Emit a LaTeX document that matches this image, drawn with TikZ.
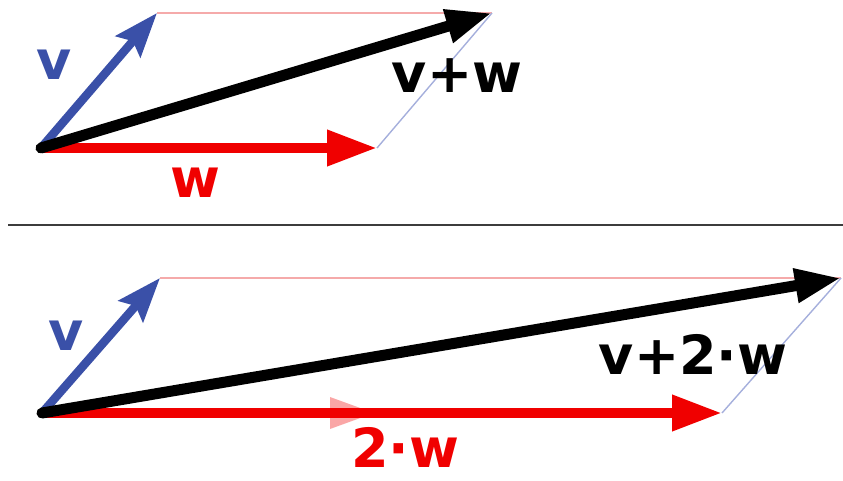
\documentclass[tikz,border=0pt]{standalone}
\usepackage{fontspec}
\setmainfont{DejaVu Sans}
\usetikzlibrary{arrows.meta,calc}
\definecolor{vblue}{RGB}{58,80,168}
\definecolor{wred}{RGB}{240,0,0}
\definecolor{pinkline}{RGB}{245,170,170}
\definecolor{blueline}{RGB}{165,175,220}
\definecolor{sepgray}{RGB}{60,60,60}
\tikzset{
  vvec/.style={draw=vblue, line width=8.5pt, -{Stealth[length=44pt,width=32pt,inset=7pt]}},
  wvec/.style={draw=wred, line width=10pt, -{Triangle[length=50pt,width=34pt]}},
  svec/.style={draw=black, line width=11pt, line cap=round, -{Triangle[length=46pt,width=32pt]}},
  pline/.style={draw=pinkline, line width=1.6pt},
  bline/.style={draw=blueline, line width=1.4pt},
  lbl/.style={font=\fontsize{54}{60}\bfseries\selectfont, inner sep=0pt, anchor=base},
}
\begin{document}
\begin{tikzpicture}[x=1pt,y=-1pt]
\useasboundingbox (0,0) rectangle (843,481);
% top
\coordinate (O1) at (41,148);
\coordinate (V1) at (157,13);
\coordinate (W1) at (377,148);
\coordinate (S1) at (492,13);
\draw[pline] (V1) -- (S1);
\draw[bline] (W1) -- (S1);
\draw[vvec] (O1) -- (V1);
\draw[wvec] (O1) -- (W1);
\draw[svec] (O1) -- (S1);
\node[lbl, text=vblue] (lv1) at (54,80) {v};
\node[lbl, text=wred] (lw1) at (195,198) {w};
\node[lbl, text=black] (ls1) at (457,93) {v+w};
% separator
\coordinate (L) at (8,225);
\coordinate (R) at (843,225);
\draw[draw=sepgray, line width=2.5pt] (L) -- (R);
% bottom
\coordinate (O2) at (42,413);
\coordinate (V2) at (160,278);
\coordinate (W2) at (722,413);
\coordinate (S2) at (841,278);
\coordinate (H2) at (330,413);
\draw[pline] (V2) -- (S2);
\draw[bline] (W2) -- (S2);
\fill[wred!35] ($(H2)+(0,-16)$) -- ($(H2)+(44,0)$) -- ($(H2)+(0,16)$) -- cycle;
\draw[vvec] (O2) -- (V2);
\draw[wvec] (O2) -- (W2);
\draw[svec] (O2) -- (S2);
\node[lbl, text=vblue] (lv2) at (66,350) {v};
\node[lbl, text=wred] (lw2) at (405,467) {2·w};
\node[lbl, text=black] (ls2) at (693,374) {v+2·w};
\end{tikzpicture}
\end{document}
